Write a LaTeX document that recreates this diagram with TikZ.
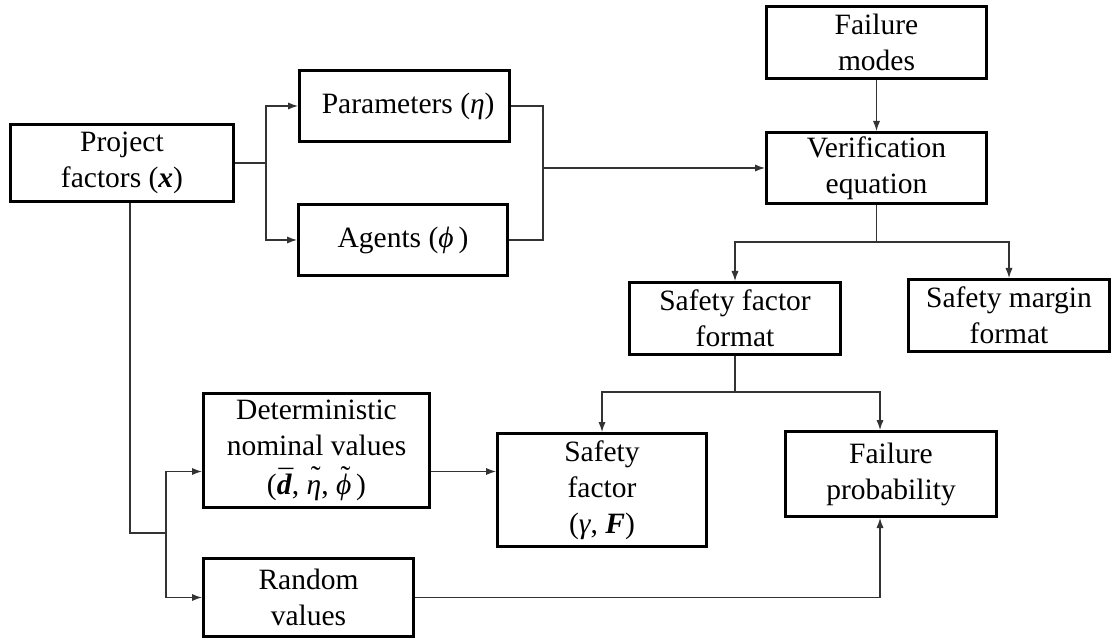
\documentclass[tikz,border=0pt]{standalone}
\usepackage{fontspec}
\setmainfont{Liberation Serif}
\usetikzlibrary{arrows.meta}

% a mark set over a letter, raised by #1
\newcommand\markover[3]{\ooalign{\hidewidth\kern0.12em\raisebox{#1}{#2}\hidewidth\cr#3\cr}}

\tikzset{
  block/.style = {shape=rectangle, draw, line width=1.5pt,
                  align=center, inner sep=2pt},
  link/.style  = {draw=black!80, line width=0.6pt},
  arrow/.style = {link, -{Latex[length=5pt,width=3.6pt]}}
}

\begin{document}
\begin{tikzpicture}
[
x=0.5pt, y=-0.5pt,
    every node/.style = {font=\fontsize{14.75}{18}\selectfont}
  ]
\useasboundingbox (0,0) rectangle (1113,641);

\node[block, minimum width=111.5pt, minimum height=38.5pt] (proj) at (122,163)
  {Project\\factors (\textbf{\textit{x}})};
\node[block, minimum width=105pt, minimum height=35.5pt] (param) at (404.5,106)
  {\ Parameters (\textit{η})};
\node[block, minimum width=104.5pt, minimum height=35.5pt] (agent) at (403,240)
  {Agents (\textit{ϕ}\,)};
\node[block, minimum width=110pt, minimum height=36pt] (fmodes) at (876.5,42.5)
  {Failure\\modes};
\node[block, minimum width=110pt, minimum height=34.5pt] (verif) at (876.5,168)
  {Verification\\equation};
\node[block, minimum width=105.5pt, minimum height=36pt] (sffmt) at (735,318.5)
  {Safety factor\\format};
\node[block, minimum width=100.5pt, minimum height=36pt] (smfmt) at (1009,315.5)
  {Safety margin\\format};
\node[block, minimum width=113pt, minimum height=57pt] (determ) at (316.5,450.5)
  {Deterministic\\nominal values\\[1.5pt](\markover{0.14em}{¯}{\textbf{\textit{d}}},
   \markover{0.28em}{˜}{\textit{η}}, \markover{0.28em}{˜}{\textit{ϕ}}\,)};
\node[block, minimum width=104.5pt, minimum height=56.5pt] (sfac) at (602,490)
  {Safety\\factor\\(\textit{γ}, \textbf{\textit{F}})};
\node[block, minimum width=105.5pt, minimum height=42.5pt] (fprob) at (891,474)
  {Failure\\probability};
\node[block, minimum width=105pt, minimum height=39pt] (random) at (308.5,597.5)
  {Random\\values};

\coordinate (split)  at (266,163);
\coordinate (join)   at (543,168);
\coordinate (fork)   at (876.5,242);
\coordinate (fork2)  at (735,392);
\coordinate (bend)   at (130,533);
\coordinate (split2) at (166,533);
\path ([yshift=-10.5pt]determ.east) coordinate (dout);

\draw[link]  (proj.east) -- (split);
\draw[arrow] (split) |- (param.west);
\draw[arrow] (split) |- (agent.west);
\draw[link]  (param.east) -| (join);
\draw[link]  (agent.east) -| (join);
\draw[arrow] (join) -- (verif.west);
\draw[arrow] (fmodes) -- (verif);

\draw[link]  (verif.south) -- (fork);
\draw[arrow] (fork) -| (sffmt.north);
\draw[arrow] (fork) -| (smfmt.north);
\draw[link]  (sffmt.south) -- (fork2);
\draw[arrow] (fork2) -| (sfac.north);
\draw[arrow] (fork2) -| ([xshift=-5.5pt]fprob.north);

\draw[link]  ([xshift=4pt]proj.south) -- (bend) -- (split2);
\draw[arrow] (split2) |- ([yshift=-10.5pt]determ.west);
\draw[arrow] (split2) |- (random.west);
\draw[arrow] (dout) -- (dout -| sfac.west);
\draw[arrow] (random.east) -| ([xshift=-5.5pt]fprob.south);
\end{tikzpicture}
\end{document}
